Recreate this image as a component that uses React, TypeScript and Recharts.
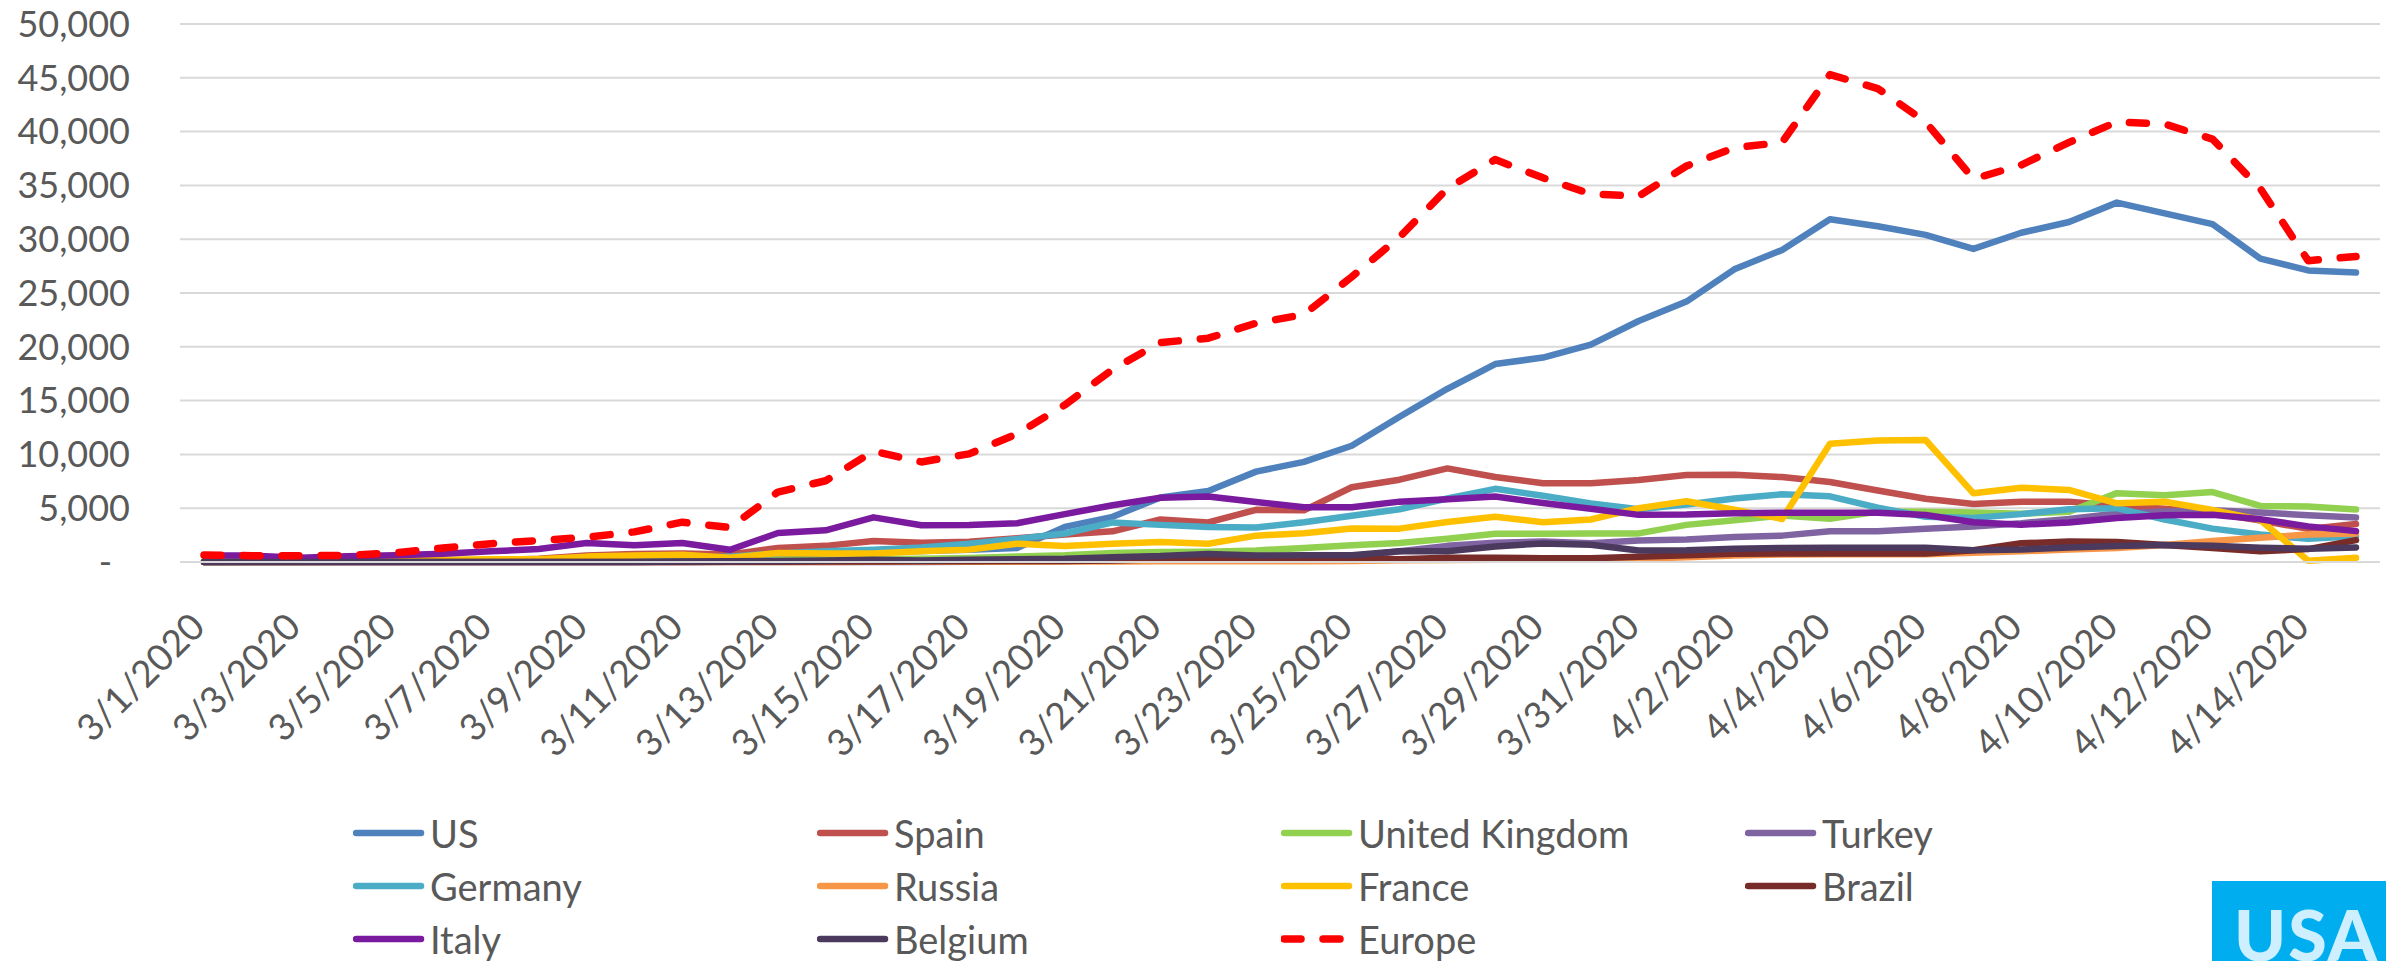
import React from 'react';
import { LineChart, Line, XAxis, YAxis, CartesianGrid, Legend } from 'recharts';

const dates = [
  '3/1/2020', '3/2/2020', '3/3/2020', '3/4/2020', '3/5/2020', '3/6/2020', '3/7/2020', '3/8/2020', '3/9/2020', '3/10/2020',
  '3/11/2020', '3/12/2020', '3/13/2020', '3/14/2020', '3/15/2020', '3/16/2020', '3/17/2020', '3/18/2020', '3/19/2020', '3/20/2020',
  '3/21/2020', '3/22/2020', '3/23/2020', '3/24/2020', '3/25/2020', '3/26/2020', '3/27/2020', '3/28/2020', '3/29/2020', '3/30/2020',
  '3/31/2020', '4/1/2020', '4/2/2020', '4/3/2020', '4/4/2020', '4/5/2020', '4/6/2020', '4/7/2020', '4/8/2020', '4/9/2020',
  '4/10/2020', '4/11/2020', '4/12/2020', '4/13/2020', '4/14/2020', '4/15/2020',
];

const us = [10, 20, 20, 30, 70, 50, 140, 120, 70, 350, 400, 500, 650, 800, 930, 1030, 1130, 1300, 3260, 4200, 6000, 6600, 8400, 9300, 10800, 13500, 16100, 18400, 19000, 20200, 22400, 24200, 27200, 29000, 31850, 31200, 30400, 29100, 30600, 31600, 33400, 32400, 31400, 28200, 27100, 26900];
const spain = [20, 30, 40, 60, 80, 100, 150, 300, 600, 750, 800, 700, 1300, 1500, 1950, 1800, 1880, 2200, 2550, 2850, 3950, 3680, 4850, 4800, 6950, 7650, 8700, 7900, 7320, 7320, 7620, 8080, 8100, 7890, 7430, 6650, 5880, 5400, 5610, 5610, 5240, 4940, 4580, 3850, 3080, 3540];
const uk = [5, 10, 10, 20, 20, 30, 50, 60, 50, 60, 70, 130, 200, 200, 250, 300, 370, 520, 620, 830, 930, 960, 1080, 1300, 1550, 1760, 2160, 2630, 2630, 2650, 2660, 3450, 3890, 4330, 4020, 4700, 4670, 4600, 4480, 4670, 6400, 6210, 6500, 5210, 5150, 4870];
const turkey = [0, 0, 0, 0, 0, 0, 0, 0, 0, 0, 0, 0, 0, 0, 0, 5, 20, 50, 100, 170, 300, 280, 290, 300, 500, 1000, 1500, 1800, 1900, 1750, 2000, 2100, 2330, 2450, 2850, 2850, 3090, 3300, 3600, 4000, 4500, 4700, 4800, 4600, 4350, 4130];
const germany = [50, 30, 30, 60, 100, 100, 200, 150, 250, 300, 300, 500, 800, 1000, 1150, 1350, 1700, 2150, 2650, 3680, 3450, 3250, 3200, 3700, 4300, 4900, 5900, 6800, 6150, 5450, 4900, 5350, 5900, 6300, 6100, 5050, 4200, 4100, 4450, 4900, 5000, 3950, 3100, 2550, 2150, 2400];
const russia = [0, 0, 0, 0, 0, 0, 0, 0, 0, 0, 5, 5, 10, 10, 15, 20, 30, 30, 40, 50, 60, 70, 70, 60, 100, 160, 180, 200, 230, 270, 300, 440, 600, 700, 720, 720, 720, 850, 1000, 1150, 1300, 1580, 1950, 2250, 2550, 2650];
const france = [50, 30, 60, 80, 150, 200, 250, 250, 500, 600, 680, 400, 830, 800, 800, 1000, 1150, 1700, 1480, 1700, 1870, 1700, 2450, 2670, 3120, 3100, 3720, 4200, 3700, 3950, 5000, 5650, 4850, 4000, 11000, 11300, 11340, 6380, 6900, 6700, 5450, 5600, 4830, 3900, 120, 390];
const brazil = [0, 0, 0, 0, 0, 0, 0, 0, 0, 5, 10, 20, 30, 40, 50, 60, 70, 100, 100, 150, 250, 250, 350, 300, 300, 250, 400, 400, 350, 350, 480, 620, 760, 790, 790, 790, 790, 1100, 1740, 1900, 1870, 1570, 1300, 1000, 1200, 2030];
const italy = [600, 600, 400, 525, 620, 770, 990, 1200, 1760, 1550, 1760, 1140, 2690, 2940, 4150, 3420, 3440, 3600, 4450, 5280, 5970, 6080, 5580, 5090, 5090, 5610, 5840, 6090, 5480, 4940, 4380, 4410, 4540, 4580, 4570, 4570, 4370, 3700, 3470, 3670, 4080, 4350, 4390, 3970, 3310, 2870];
const belgium = [0, 0, 0, 0, 0, 0, 0, 0, 0, 0, 50, 80, 100, 150, 200, 150, 200, 250, 300, 450, 550, 750, 600, 620, 620, 990, 990, 1450, 1730, 1600, 1070, 1090, 1230, 1300, 1330, 1330, 1330, 1100, 1170, 1350, 1480, 1580, 1520, 1330, 1220, 1350];
const europe = [650, 590, 590, 620, 850, 1300, 1700, 2000, 2300, 2800, 3700, 3200, 6500, 7550, 10300, 9300, 10050, 11900, 14600, 17900, 20400, 20800, 22200, 23000, 26500, 30200, 34700, 37400, 35700, 34200, 34000, 36800, 38500, 39000, 45300, 44000, 40900, 35600, 36900, 39000, 40900, 40700, 39300, 34700, 28000, 28400];

const yTicks = [0, 5000, 10000, 15000, 20000, 25000, 30000, 35000, 40000, 45000, 50000];

const seriesNames = ['US', 'Spain', 'United Kingdom', 'Turkey', 'Germany', 'Russia', 'France', 'Brazil', 'Italy', 'Belgium', 'Europe'];
const seriesValues = [us, spain, uk, turkey, germany, russia, france, brazil, italy, belgium, europe];
const seriesColors = ['#4F81BD', '#C0504D', '#92D050', '#8064A2', '#4BACC6', '#F79646', '#FFC000', '#772C2A', '#7A1A9E', '#4B3A5E', '#FF0000'];

const data = dates.map((d, i) => {
  const row: Record<string, any> = { date: d };
  seriesNames.forEach((n, k) => {
    row[n] = seriesValues[k][i];
  });
  return row;
});

const FONT = 'Lato, "Open Sans", sans-serif';
const TEXT = '#595959';
const DASH = '17 22';

const XTick = (props: any) => {
  const { x, y, payload } = props;
  return (
    <g transform={`translate(${x + 3},${y + 67})`}>
      <text textAnchor="end" transform="rotate(-45)" fill={TEXT} fontSize={37} fontFamily={FONT}>
        {payload.value}
      </text>
    </g>
  );
};

const YTick = (props: any) => {
  const { x, y, payload } = props;
  const v = payload.value as number;
  const label = v === 0 ? '-' : v.toLocaleString('en-US');
  return (
    <text x={v === 0 ? x - 18 : x} y={y} dy="0.355em" textAnchor="end" fill={TEXT} fontSize={36} fontFamily={FONT}>
      {label}
    </text>
  );
};

const renderLegend = () => (
  <div style={{ position: 'relative', width: 2386, height: 171 }}>
    {seriesNames.map((n, i) => {
      const col = i % 4;
      const row = Math.floor(i / 4);
      const left = 353 + col * 464;
      const center = 43 + row * 53;
      const dashed = n === 'Europe';
      return (
        <div
          key={n}
          style={{ position: 'absolute', left, top: center - 26, height: 52, display: 'flex', alignItems: 'center', whiteSpace: 'nowrap' }}
        >
          <svg width={77} height={14} style={{ display: 'block' }}>
            <line
              x1={3}
              y1={7}
              x2={dashed ? 72 : 68}
              y2={7}
              stroke={seriesColors[i]}
              strokeWidth={dashed ? 7.5 : 6.5}
              strokeLinecap="round"
              strokeDasharray={dashed ? DASH : undefined}
            />
          </svg>
          <span style={{ fontSize: 38, color: TEXT, fontFamily: FONT, lineHeight: '52px' }}>{n}</span>
        </div>
      );
    })}
  </div>
);

export default function App() {
  return (
    <div style={{ position: 'absolute', left: 0, top: 0, width: 2386, height: 961, background: '#fff', overflow: 'hidden' }}>
      <LineChart width={2386} height={961} data={data} margin={{ top: 24, right: 6, left: 0, bottom: 0 }}>
        <CartesianGrid vertical={false} stroke="#D9D9D9" strokeWidth={2} />
        <XAxis
          dataKey="date"
          interval={1}
          padding={{ left: 24, right: 24 }}
          tickLine={false}
          tickSize={0}
          tickMargin={0}
          axisLine={{ stroke: '#D9D9D9', strokeWidth: 2 }}
          height={228}
          tick={<XTick />}
        />
        <YAxis
          domain={[0, 50000]}
          ticks={yTicks}
          width={180}
          axisLine={false}
          tickLine={false}
          tickSize={0}
          tickMargin={50}
          tick={<YTick />}
          interval={0}
        />
        <Legend
          verticalAlign="bottom"
          height={171}
          content={renderLegend}
          wrapperStyle={{ left: 0, bottom: 0, width: 2386, height: 171 }}
        />
        {seriesNames.map((n, i) => (
          <Line
            key={n}
            type="linear"
            dataKey={n}
            name={n}
            stroke={seriesColors[i]}
            strokeWidth={n === 'Europe' ? 7.5 : 6.5}
            strokeDasharray={n === 'Europe' ? DASH : undefined}
            strokeLinecap="round"
            strokeLinejoin="round"
            dot={false}
            activeDot={false}
            isAnimationActive={false}
          />
        ))}
      </LineChart>
      <div
        style={{
          position: 'absolute',
          left: 2212,
          top: 881,
          width: 174,
          height: 80,
          background: '#00AEEF',
          overflow: 'hidden',
        }}
      >
        <span
          style={{
            position: 'absolute',
            left: 22,
            top: 18,
            fontFamily: FONT,
            fontWeight: 900,
            fontSize: 70,
            lineHeight: '70px',
            color: '#CDEFFF',
            letterSpacing: 2,
          }}
        >
          USA
        </span>
      </div>
    </div>
  );
}
